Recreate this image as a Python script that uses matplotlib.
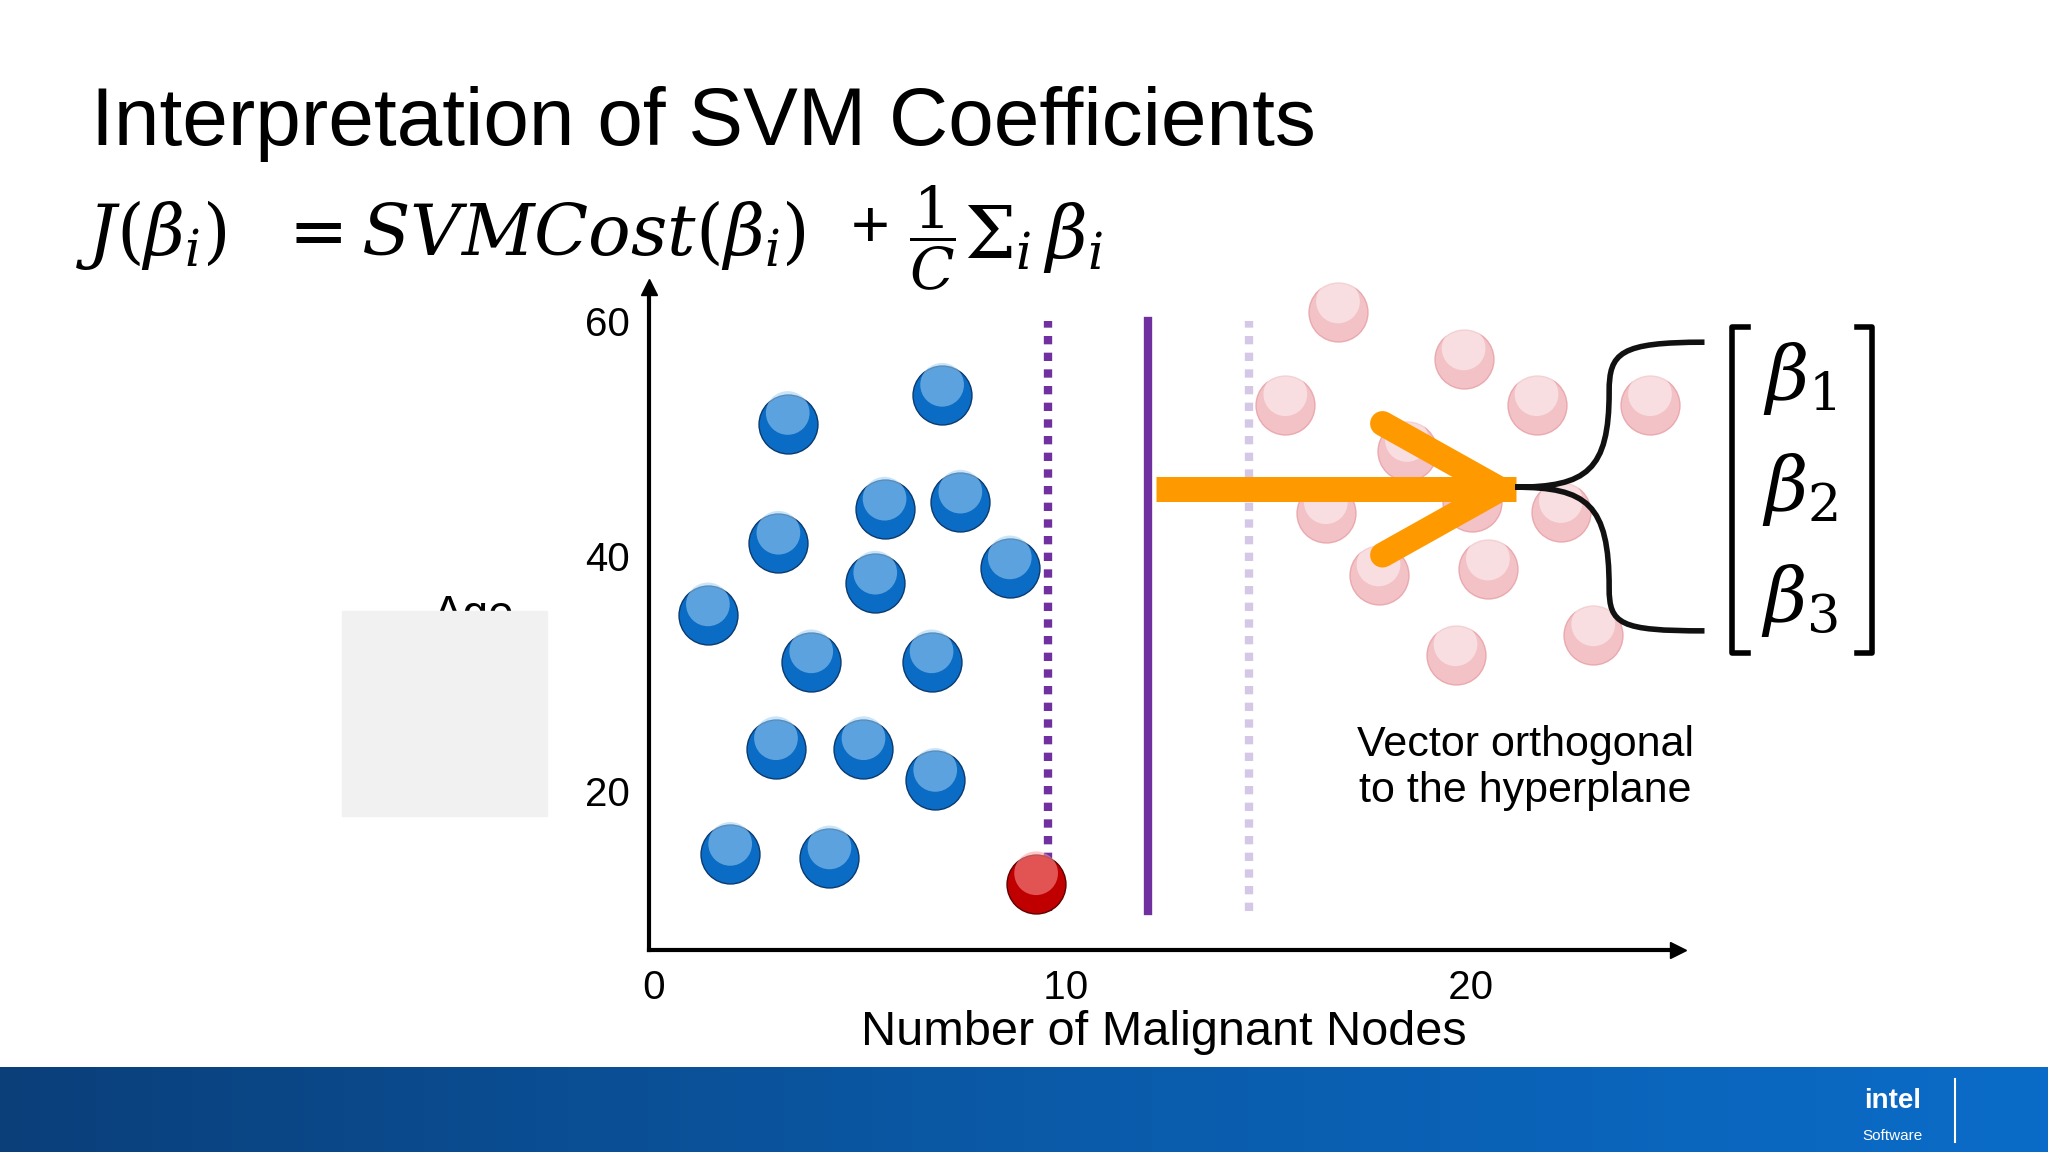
import matplotlib
matplotlib.use("Agg")
import matplotlib.pyplot as plt
import numpy as np
from matplotlib.patches import Rectangle
from matplotlib.path import Path
from matplotlib.patches import PathPatch
from matplotlib.colors import LinearSegmentedColormap

plt.rcParams['font.family'] = ['Liberation Sans', 'DejaVu Sans']

blue_x = [3.42, 7.23, 5.81, 7.68, 3.19, 5.58, 8.9, 1.45, 4.0, 6.97, 3.13, 5.29, 7.06, 2.0, 4.45]
blue_y = [51.3, 53.7, 44.0, 44.6, 41.1, 37.7, 39.0, 35.0, 31.0, 31.0, 23.6, 23.6, 20.9, 14.6, 14.3]
red_x = [9.55]
red_y = [12.1]
pink_x = [17.0, 20.1, 15.7, 21.9, 24.7, 18.7, 16.7, 20.3, 22.5, 18.0, 20.7, 23.3, 19.9]
pink_y = [60.8, 56.8, 52.9, 52.9, 52.9, 49.0, 43.7, 44.6, 43.8, 38.4, 38.9, 33.3, 31.6]
x_ticks = [0, 10, 20]
y_ticks = [20, 40, 60]
margin_dotted = 9.84
hyperplane = 12.3
margin_light = 14.8
line_y = (9.8, 60.0)
arrow_x = (12.5, 21.4)
arrow_y = 45.7

W, H = 1568, 882
fig = plt.figure(figsize=(20.48, 11.52), dpi=100)
fig.patch.set_facecolor("white")

ax = fig.add_axes([497/W, (H-727)/H, (1285-497)/W, (727-220)/H])
ax.set_xlim(0, 25.4)
ax.set_ylim(6.5, 62.9)
for s in ["top", "right"]:
    ax.spines[s].set_visible(False)
ax.spines["left"].set_linewidth(3)
ax.spines["bottom"].set_linewidth(3)
ax.plot(1, 0, ">k", transform=ax.transAxes, clip_on=False, ms=12)
ax.plot(0, 1, "^k", transform=ax.transAxes, clip_on=False, ms=12)
ax.set_xticks(x_ticks)
ax.set_xticklabels([f"  {v}" if v else " 0" for v in x_ticks])
ax.set_yticks(y_ticks)
ax.tick_params(length=0, labelsize=29, pad=14)
ax.set_xlabel("Number of Malignant Nodes", fontsize=35, labelpad=2)
ax.set_ylabel("Age", fontsize=33, rotation=0)
ax.yaxis.set_label_coords(-0.17, 0.47)
ax.patch.set_alpha(0)

S = 1800
def spheres(xs, ys, base, edge, hi, alpha=1.0):
    ax.scatter(xs, ys, s=S, c=base, edgecolors=edge, linewidths=1, alpha=alpha, zorder=3, clip_on=False)
    ax.scatter(xs, np.array(ys) + 0.9, s=S*0.55, c=hi, edgecolors="none", alpha=alpha*0.55, zorder=4, clip_on=False)

spheres(blue_x, blue_y, "#0a6cc4", "#0a3a70", "#9ed0f5")
spheres(red_x, red_y, "#c00000", "#600000", "#ff9a9a")
spheres(pink_x, pink_y, "#f2b8bc", "#e8a0a6", "#ffffff", alpha=0.85)

ax.plot([margin_dotted]*2, line_y, color="#7030a0", lw=6, ls=(0, (1, 1)), zorder=2)
ax.plot([hyperplane]*2, line_y, color="#7030a0", lw=6, zorder=2)
ax.plot([margin_light]*2, line_y, color="#d5c8e6", lw=6, ls=(0, (1, 1)), zorder=2)
ax.plot(arrow_x, [arrow_y]*2, color="#ff9900", lw=18, solid_capstyle="butt", zorder=5)
ax.plot([arrow_x[1]-3.3, arrow_x[1]-0.4, arrow_x[1]-3.3], [arrow_y+5.6, arrow_y, arrow_y-5.6],
        color="#ff9900", lw=18, solid_capstyle="round", solid_joinstyle="round", zorder=5)

ov = fig.add_axes([0, 0, 1, 1], zorder=10)
ov.set_xlim(0, W)
ov.set_ylim(H, 0)
ov.axis("off")
ov.patch.set_alpha(0)
grad = np.linspace(0, 1, 256).reshape(1, -1)
cm = LinearSegmentedColormap.from_list("b", ["#0b3f7a", "#0a5aa8", "#0a6cc8"])
ov.imshow(grad, cmap=cm, extent=(0, W, 882, 817), aspect="auto", zorder=1)
ov.text(1449, 843, "intel", color="white", fontsize=20, ha="center", va="center", fontweight="bold")
ov.text(1449, 870, "Software", color="white", fontsize=11, ha="center", va="center")
ov.plot([1497, 1497], [826, 874], color="white", lw=1.5)
ov.add_patch(Rectangle((262, 468), 157, 157, color="#f1f1f1", zorder=2))

ov.text(70, 95, "Interpretation of SVM Coefficients", fontsize=59, va="center", ha="left")
ov.text(58, 180, r"$J(\beta_i)\ \ = SVMCost(\beta_i)$",
        fontsize=51, va="center", ha="left", math_fontfamily="dejavuserif")
ov.text(666, 176, "+", fontsize=48, va="center", ha="center")
ov.text(714, 182, r"$\dfrac{1}{C}$", fontsize=42, va="center", ha="center", math_fontfamily="dejavuserif")
ov.text(738, 182, r"$\Sigma_i\,\beta_i$", fontsize=52, va="center", ha="left", math_fontfamily="dejavuserif")
ov.text(1168, 588, "Vector orthogonal\nto the hyperplane", fontsize=31, ha="center", va="center", linespacing=1.2)

vb = [(1305, 262), (1240, 262), (1232, 270), (1232, 300),
      (1232, 360), (1215, 373), (1160, 373),
      (1215, 373), (1232, 386), (1232, 450),
      (1232, 478), (1240, 483), (1305, 483)]
codes = [Path.MOVETO] + [Path.CURVE4]*12
ov.add_patch(PathPatch(Path(vb, codes), fill=False, lw=4, color="#111111"))
ov.plot([1338, 1326, 1326, 1338], [250, 250, 500, 500], color="k", lw=4)
ov.plot([1422, 1433, 1433, 1422], [250, 250, 500, 500], color="k", lw=4)
for i, yy in enumerate([290, 375, 460]):
    ov.text(1378, yy, rf"$\beta_{i+1}$", fontsize=54, ha="center", va="center", math_fontfamily="dejavuserif")

fig.savefig("out.png", dpi=100)
